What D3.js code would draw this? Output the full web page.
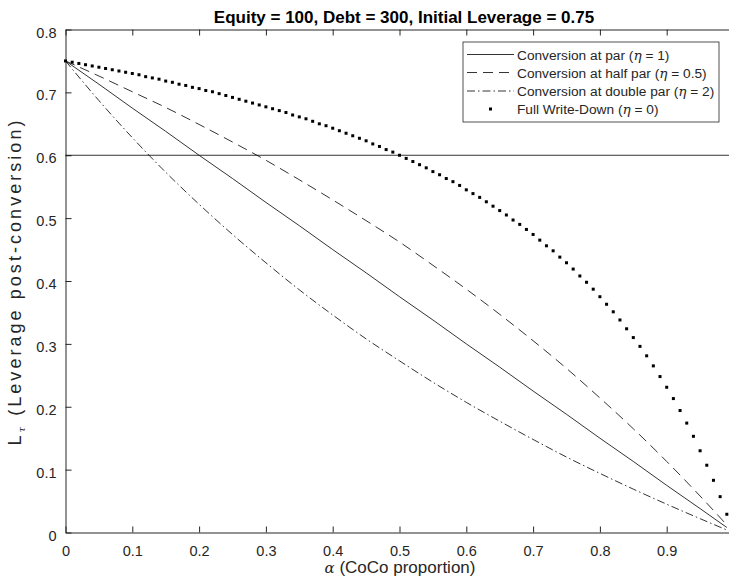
<!DOCTYPE html>
<html>
<head>
<meta charset="utf-8">
<script src="https://cdn.jsdelivr.net/npm/d3@7"></script>
<style>
  body { margin: 0; background: #fff; }
  text { font-family: "Liberation Sans", Arial, sans-serif; }
</style>
</head>
<body>
<div id="chart"></div>
<script>
// leverage after CoCo conversion

// alpha grid for the three line series
const alphaLines = [0, 0.05, 0.1, 0.15, 0.2, 0.25, 0.3, 0.35, 0.4, 0.45, 0.5,
  0.55, 0.6, 0.65, 0.7, 0.75, 0.8, 0.85, 0.9, 0.95, 0.99];

const atPar = [0.750, 0.713, 0.675, 0.638, 0.600, 0.563, 0.525, 0.488, 0.450, 0.413, 0.375,
  0.338, 0.300, 0.263, 0.225, 0.188, 0.150, 0.113, 0.075, 0.038, 0.008];

const atHalfPar = [0.750, 0.726, 0.701, 0.676, 0.649, 0.621, 0.592, 0.561, 0.529, 0.496, 0.462,
  0.425, 0.387, 0.347, 0.305, 0.261, 0.214, 0.165, 0.113, 0.058, 0.012];

const atDoublePar = [0.750, 0.687, 0.628, 0.573, 0.522, 0.474, 0.429, 0.386, 0.346, 0.308, 0.273,
  0.239, 0.207, 0.177, 0.148, 0.120, 0.094, 0.069, 0.045, 0.022, 0.004];

// alpha grid for the dotted series (one marker per step)
const alphaDots = [0.00, 0.01, 0.02, 0.03, 0.04, 0.05, 0.06, 0.07, 0.08, 0.09,
  0.10, 0.11, 0.12, 0.13, 0.14, 0.15, 0.16, 0.17, 0.18, 0.19,
  0.20, 0.21, 0.22, 0.23, 0.24, 0.25, 0.26, 0.27, 0.28, 0.29,
  0.30, 0.31, 0.32, 0.33, 0.34, 0.35, 0.36, 0.37, 0.38, 0.39,
  0.40, 0.41, 0.42, 0.43, 0.44, 0.45, 0.46, 0.47, 0.48, 0.49,
  0.50, 0.51, 0.52, 0.53, 0.54, 0.55, 0.56, 0.57, 0.58, 0.59,
  0.60, 0.61, 0.62, 0.63, 0.64, 0.65, 0.66, 0.67, 0.68, 0.69,
  0.70, 0.71, 0.72, 0.73, 0.74, 0.75, 0.76, 0.77, 0.78, 0.79,
  0.80, 0.81, 0.82, 0.83, 0.84, 0.85, 0.86, 0.87, 0.88, 0.89,
  0.90, 0.91, 0.92, 0.93, 0.94, 0.95, 0.96, 0.97, 0.98, 0.99];

const writeDown = [0.750, 0.748, 0.746, 0.744, 0.742, 0.740, 0.738, 0.736, 0.734, 0.732,
  0.730, 0.728, 0.725, 0.723, 0.721, 0.718, 0.716, 0.713, 0.711, 0.708,
  0.706, 0.703, 0.701, 0.698, 0.695, 0.692, 0.689, 0.686, 0.683, 0.680,
  0.677, 0.674, 0.671, 0.668, 0.664, 0.661, 0.658, 0.654, 0.650, 0.647,
  0.643, 0.639, 0.635, 0.631, 0.627, 0.623, 0.618, 0.614, 0.609, 0.605,
  0.600, 0.595, 0.590, 0.585, 0.580, 0.574, 0.569, 0.563, 0.558, 0.552,
  0.545, 0.539, 0.533, 0.526, 0.519, 0.512, 0.505, 0.497, 0.490, 0.482,
  0.474, 0.465, 0.456, 0.448, 0.438, 0.429, 0.419, 0.408, 0.398, 0.387,
  0.375, 0.363, 0.351, 0.338, 0.324, 0.310, 0.296, 0.281, 0.265, 0.248,
  0.231, 0.213, 0.194, 0.174, 0.153, 0.130, 0.107, 0.083, 0.057, 0.029];

const threshold = 0.6;

const xTicks = [0, 0.1, 0.2, 0.3, 0.4, 0.5, 0.6, 0.7, 0.8, 0.9];
const yTicks = [0, 0.1, 0.2, 0.3, 0.4, 0.5, 0.6, 0.7, 0.8];

const legendNames = ["Conversion at par (", "Conversion at half par (", "Conversion at double par (", "Full Write-Down ("];
const legendEta = ["1", "0.5", "2", "0"];

//create svg
const width = 729, height = 584;
const svg = d3.select("#chart")
  .append("svg")
  .attr("width", width)
  .attr("height", height);

// the right edge of the axes (alpha = 1) falls just outside the picture
const x = d3.scaleLinear().domain([0, 1]).range([65.5, 733.5]);
const y = d3.scaleLinear().domain([0, 0.8]).range([532.5, 29.5]);

const axisCol = "#262626";
const tickLen = 6;

// ----- axes -----
const xAxis = svg.append("g")
  .attr("transform", "translate(0," + y(0) + ")")
  .call(d3.axisBottom(x).tickValues(xTicks).tickSizeInner(-tickLen).tickSizeOuter(0).tickPadding(13.5)
    .tickFormat(d => d3.format("")(d)));
xAxis.select(".domain").attr("stroke", axisCol);
xAxis.selectAll(".tick line").attr("stroke", axisCol);
xAxis.selectAll("text").attr("font-size", 14.5).attr("fill", axisCol);

const yAxis = svg.append("g")
  .attr("transform", "translate(" + x(0) + ",0)")
  .call(d3.axisLeft(y).tickValues(yTicks).tickSizeInner(-tickLen).tickSizeOuter(0).tickPadding(9)
    .tickFormat(d => d3.format("")(d)));
yAxis.select(".domain").attr("stroke", axisCol);
yAxis.selectAll(".tick line").attr("stroke", axisCol);
yAxis.selectAll("text").attr("font-size", 14.5).attr("dy", "0.52em").attr("fill", axisCol);

// top border with ticks (box on)
const topAxis = svg.append("g")
  .attr("transform", "translate(0," + y(0.8) + ")")
  .call(d3.axisTop(x).tickValues(xTicks).tickSizeInner(-tickLen).tickSizeOuter(0).tickFormat(""));
topAxis.select(".domain").attr("stroke", axisCol);
topAxis.selectAll(".tick line").attr("stroke", axisCol);

// ----- threshold line -----
svg.append("line")
  .attr("x1", x(0)).attr("x2", width)
  .attr("y1", y(threshold)).attr("y2", y(threshold))
  .attr("stroke", "#000")
  .attr("stroke-width", 0.8);

// ----- series -----
const lineSeries = [
  { values: atPar, dash: null },
  { values: atHalfPar, dash: "10,6" },
  { values: atDoublePar, dash: "8,3,1.5,3" }
];

const line = d3.line()
  .x((d, i) => x(alphaLines[i]))
  .y(d => y(d))
  .curve(d3.curveMonotoneX);

svg.selectAll(".series")
  .data(lineSeries)
  .join("path")
  .attr("class", "series")
  .attr("d", d => line(d.values))
  .attr("fill", "none")
  .attr("stroke", "#000")
  .attr("stroke-width", 0.8)
  .attr("stroke-dasharray", d => d.dash);

const dot = 3;
svg.selectAll(".dot")
  .data(writeDown)
  .join("rect")
  .attr("class", "dot")
  .attr("x", (d, i) => x(alphaDots[i]) - dot / 2)
  .attr("y", d => y(d) - dot / 2)
  .attr("width", dot)
  .attr("height", dot)
  .attr("fill", "#000");

// ----- title and labels -----
svg.append("text")
  .attr("x", 404)
  .attr("y", 23)
  .attr("text-anchor", "middle")
  .attr("font-size", 17)
  .attr("font-weight", "bold")
  .attr("fill", "#000")
  .text("Equity = 100, Debt = 300, Initial Leverage = 0.75");

const xLab = svg.append("text")
  .attr("x", 400)
  .attr("y", 573)
  .attr("text-anchor", "middle")
  .attr("font-size", 17)
  .attr("fill", axisCol);
xLab.append("tspan").attr("font-family", "DejaVu Serif").attr("font-style", "italic").attr("font-size", 15).text("α");
xLab.append("tspan").text(" (CoCo proportion)");

// y label runs most of the axis height in the reference
const yLab = svg.append("text")
  .attr("transform", "translate(21,283) rotate(-90)")
  .attr("text-anchor", "middle")
  .attr("font-size", 18)
  .attr("fill", axisCol)
  .attr("textLength", 325)
  .attr("lengthAdjust", "spacing");
yLab.append("tspan").text("L");
yLab.append("tspan").attr("font-size", 10).attr("dy", 4).attr("font-family", "DejaVu Serif").attr("font-style", "italic").text("τ");
yLab.append("tspan").attr("dy", -4).text(" (Leverage post-conversion)");

// ----- legend -----
const legend = svg.append("g").attr("transform", "translate(463,42)");
legend.append("rect")
  .attr("width", 256)
  .attr("height", 80)
  .attr("fill", "#fff")
  .attr("stroke", axisCol)
  .attr("stroke-width", 0.8);

const rowY = [12.5, 30.5, 49, 67];
const legendDash = [null, "10,6", "8,3,1.5,3"];

legendNames.forEach(function(name, i) {
  if (i < 3) {
    legend.append("line")
      .attr("x1", 4).attr("x2", 51)
      .attr("y1", rowY[i]).attr("y2", rowY[i])
      .attr("stroke", "#000")
      .attr("stroke-width", 0.8)
      .attr("stroke-dasharray", legendDash[i]);
  } else {
    legend.append("rect")
      .attr("x", 27.5 - dot / 2).attr("y", rowY[i] - dot / 2)
      .attr("width", dot).attr("height", dot)
      .attr("fill", "#000");
  }
  const t = legend.append("text")
    .attr("x", 54)
    .attr("y", rowY[i] + 5)
    .attr("font-size", 13.7)
    .attr("fill", axisCol);
  t.append("tspan").text(name);
  t.append("tspan").attr("font-family", "DejaVu Serif").attr("font-style", "italic").text("η");
  t.append("tspan").text(" = " + legendEta[i] + ")");
});
</script>
</body>
</html>
